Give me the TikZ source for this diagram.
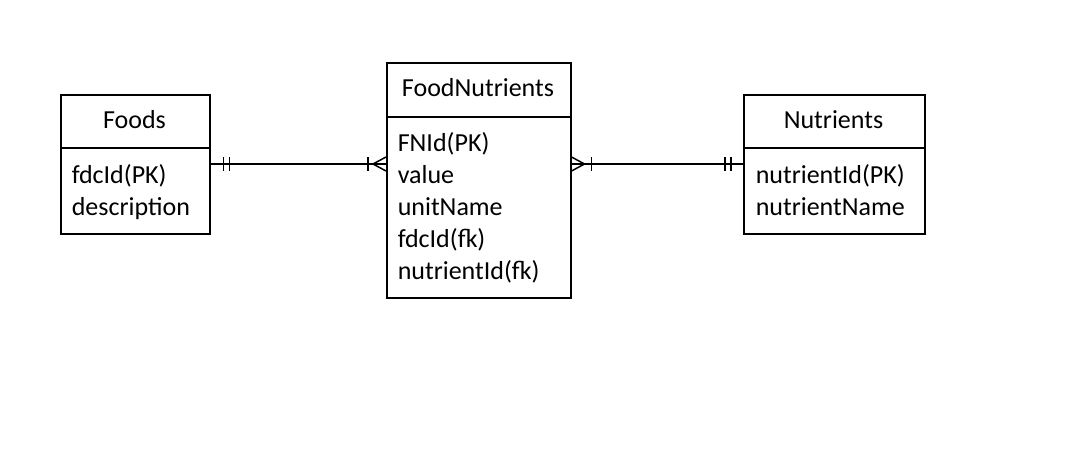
\documentclass[tikz,border=0pt]{standalone}
\usepackage{fontspec}
\setmainfont{Carlito}
\begin{document}
\begin{tikzpicture}[x=1pt,y=-1pt,line width=1.5pt,
  hdr/.style={draw,rectangle,anchor=north west,inner sep=0pt,minimum width=#1,minimum height=53pt},
  bodybox/.style={draw,rectangle,anchor=north west,inner sep=0pt,minimum width=#1},
  lbl/.style={inner sep=0pt,anchor=base,font=\fontsize{26}{32}\selectfont},
  body/.style={inner sep=0pt,anchor=base west,font=\fontsize{26}{32}\selectfont}]
\useasboundingbox[fill=white] (0,0) rectangle (1074,466);
% Foods
\node[hdr=149pt] (fh) at (60,94) {};
\node[bodybox=149pt,minimum height=86pt] (fb) at (60,147) {};
\node[lbl] (ft) at (134.5,128) {Foods};
\node[body] (f1) at (71,183) {fdcId(PK)};
\node[body] (f2) at (71,215) {description};
% FoodNutrients
\node[hdr=184pt,minimum height=54pt] (nh) at (386,62) {};
\node[bodybox=184pt,minimum height=181pt] (nb) at (386,116) {};
\node[lbl] (nt) at (478,96) {FoodNutrients};
\node[body] (n1) at (397,151) {FNId(PK)};
\node[body] (n2) at (397,183) {value};
\node[body] (n3) at (397,215) {unitName};
\node[body] (n4) at (397,247) {fdcId(fk)};
\node[body] (n5) at (397,279) {nutrientId(fk)};
% Nutrients
\node[hdr=181pt] (uh) at (743,94) {};
\node[bodybox=181pt,minimum height=86pt] (ub) at (743,147) {};
\node[lbl] (ut) at (833.5,128) {Nutrients};
\node[body] (u1) at (755,183) {nutrientId(PK)};
\node[body] (u2) at (755,215) {nutrientName};
% connector Foods -- FoodNutrients
\coordinate (c1) at ([yshift=-17pt]fb.north east);
\coordinate (c2) at ([yshift=-48pt]nb.north west);
\draw (c1) -- (c2);
\draw ([xshift=13pt,yshift=7pt]c1) -- ([xshift=13pt,yshift=-7pt]c1);
\draw ([xshift=19pt,yshift=7pt]c1) -- ([xshift=19pt,yshift=-7pt]c1);
\draw ([xshift=-18pt,yshift=7pt]c2) -- ([xshift=-18pt,yshift=-7pt]c2);
\draw ([yshift=7pt]c2) -- ([xshift=-13pt]c2) -- ([yshift=-7pt]c2);
% connector FoodNutrients -- Nutrients
\coordinate (c3) at ([yshift=-48pt]nb.north east);
\coordinate (c4) at ([yshift=-17pt]ub.north west);
\draw (c3) -- (c4);
\draw ([yshift=7pt]c3) -- ([xshift=13pt]c3) -- ([yshift=-7pt]c3);
\draw ([xshift=20pt,yshift=7pt]c3) -- ([xshift=20pt,yshift=-7pt]c3);
\draw ([xshift=-12pt,yshift=7pt]c4) -- ([xshift=-12pt,yshift=-7pt]c4);
\draw ([xshift=-18pt,yshift=7pt]c4) -- ([xshift=-18pt,yshift=-7pt]c4);
\end{tikzpicture}
\end{document}
